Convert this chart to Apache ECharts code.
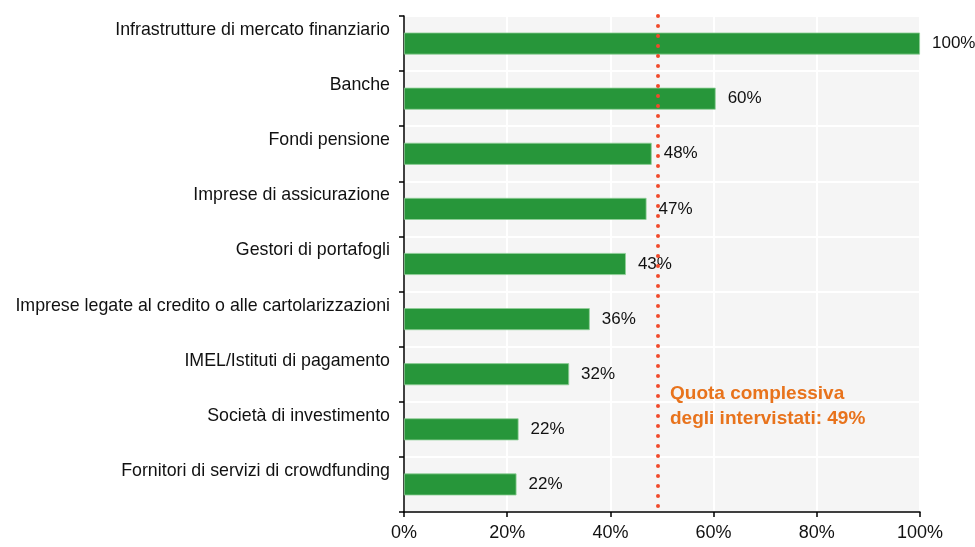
<!DOCTYPE html>
<html>
<head>
<meta charset="utf-8">
<script src="https://cdn.jsdelivr.net/npm/echarts@6/dist/echarts.min.js"></script>
<style>
  html, body { margin: 0; padding: 0; background: #fff; }
  #chart { width: 975px; height: 547px; }
</style>
</head>
<body>
<div id="chart"></div>
<script>
var categories = [
    'Infrastrutture di mercato finanziario',
    'Banche',
    'Fondi pensione',
    'Imprese di assicurazione',
    'Gestori di portafogli',
    'Imprese legate al credito o alle cartolarizzazioni',
    'IMEL/Istituti di pagamento',
    'Società di investimento',
    'Fornitori di servizi di crowdfunding'
];
var shares = [100, 60.4, 48, 47, 43, 36, 32, 22.2, 21.8];
var overall = 49.2;
var overallText = 'Quota complessiva\ndegli intervistati: 49%';
var xTicks = [0, 20, 40, 60, 80, 100];

var fontFam = '"Liberation Sans Narrow", "Liberation Sans", Arial, sans-serif';
var chart = echarts.init(document.getElementById('chart'));

var option = {
    animation: false,
    grid: {
        left: 404, right: 55, top: 16, bottom: 35,
        show: true, backgroundColor: '#f5f5f5', borderWidth: 0
    },
    xAxis: {
        type: 'value',
        min: xTicks[0], max: xTicks[xTicks.length - 1], interval: 20,
        axisLine: { show: true, lineStyle: { color: '#000', width: 1.5 } },
        axisTick: { show: true, length: 5, lineStyle: { color: '#000', width: 1.5 } },
        axisLabel: {
            formatter: '{value}%', color: '#111', fontSize: 18,
            fontFamily: fontFam, margin: 12
        },
        splitLine: { show: true, lineStyle: { color: '#fff', width: 2 } }
    },
    yAxis: {
        type: 'category',
        data: categories,
        inverse: true,
        axisLine: { show: true, lineStyle: { color: '#000', width: 1.5 } },
        axisTick: { show: true, length: 5, lineStyle: { color: '#000', width: 1.5 } },
        axisLabel: {
            color: '#111', fontSize: 17.8, fontFamily: fontFam,
            margin: 14, lineHeight: 27,
            formatter: function (v) { return v + '\n '; }
        },
        splitLine: { show: true, lineStyle: { color: '#fff', width: 2 } }
    },
    series: [{
        type: 'bar',
        data: shares,
        barWidth: 22,
        itemStyle: { color: '#27963a', borderColor: '#8fcf97', borderWidth: 0.8 },
        label: {
            show: true, position: 'right', distance: 12,
            formatter: function (p) { return Math.round(p.value) + '%'; },
            color: '#111', fontSize: 17, fontFamily: fontFam
        },
        markLine: {
            silent: true,
            symbol: ['none', 'none'],
            label: { show: false },
            lineStyle: { color: '#f04a2c', width: 4, type: [0, 10], cap: 'round' },
            data: [{ xAxis: overall }]
        }
    }],
    graphic: [{
        type: 'text',
        left: 670, top: 381,
        z: 100,
        style: {
            text: overallText,
            fill: '#e8731c',
            font: 'bold 19px ' + fontFam,
            lineHeight: 25
        }
    }]
};
chart.setOption(option);
window.onresize = chart.resize;
</script>
</body>
</html>
